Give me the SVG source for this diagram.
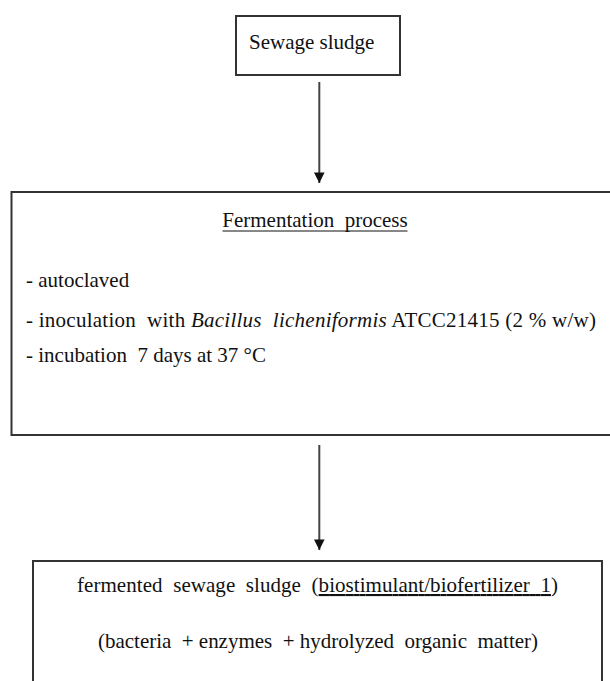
<svg xmlns="http://www.w3.org/2000/svg" width="610" height="681" viewBox="0 0 610 681">
<style>
.box{fill:#fff;stroke:#333;stroke-width:2}
.t{font-family:"Liberation Serif","Times New Roman",serif;font-size:21px;fill:#111;white-space:pre}
.c{stroke:#444;stroke-width:2;fill:none}
</style>
<defs>
<marker id="ah" viewBox="0 0 10 10" refX="10" refY="5" markerWidth="5.3" markerHeight="5.3" orient="auto" markerUnits="strokeWidth">
<path d="M0,0 L10,5 L0,10 z" fill="#111"/>
</marker>
</defs>
<rect width="610" height="681" fill="#fff"/>
<g id="connectors">
<line class="c" x1="319.3" y1="82" x2="319.3" y2="183" marker-end="url(#ah)"/>
<line class="c" x1="319.3" y1="445" x2="319.3" y2="550" marker-end="url(#ah)"/>
</g>
<g id="sewage-sludge">
<rect class="box" x="236" y="16" width="164" height="59"/>
<text class="t" x="249" y="48.5">Sewage sludge</text>
</g>
<g id="fermentation-process">
<rect class="box" x="11.5" y="192" width="615" height="243"/>
<text class="t" x="315" y="227" text-anchor="middle">Fermentation  process</text>
<line x1="222.5" y1="231" x2="407.5" y2="231" stroke="#111" stroke-width="1"/>
<text class="t" x="26" y="287">- autoclaved</text>
<text class="t" x="26" y="326.5" textLength="570" lengthAdjust="spacing">- inoculation  with <tspan font-style="italic">Bacillus  licheniformis</tspan> ATCC21415 (2 % w/w)</text>
<text class="t" x="26" y="361.5">- incubation  7 days at 37 °C</text>
</g>
<g id="fermented-sewage-sludge">
<rect class="box" x="33" y="561" width="569" height="140"/>
<text class="t" x="77" y="592" textLength="481" lengthAdjust="spacing">fermented  sewage  sludge  (<tspan text-decoration="underline">biostimulant/biofertilizer  1</tspan>)</text>
<text class="t" x="98" y="648" textLength="440" lengthAdjust="spacing">(bacteria  + enzymes  + hydrolyzed  organic  matter)</text>
</g>
</svg>
